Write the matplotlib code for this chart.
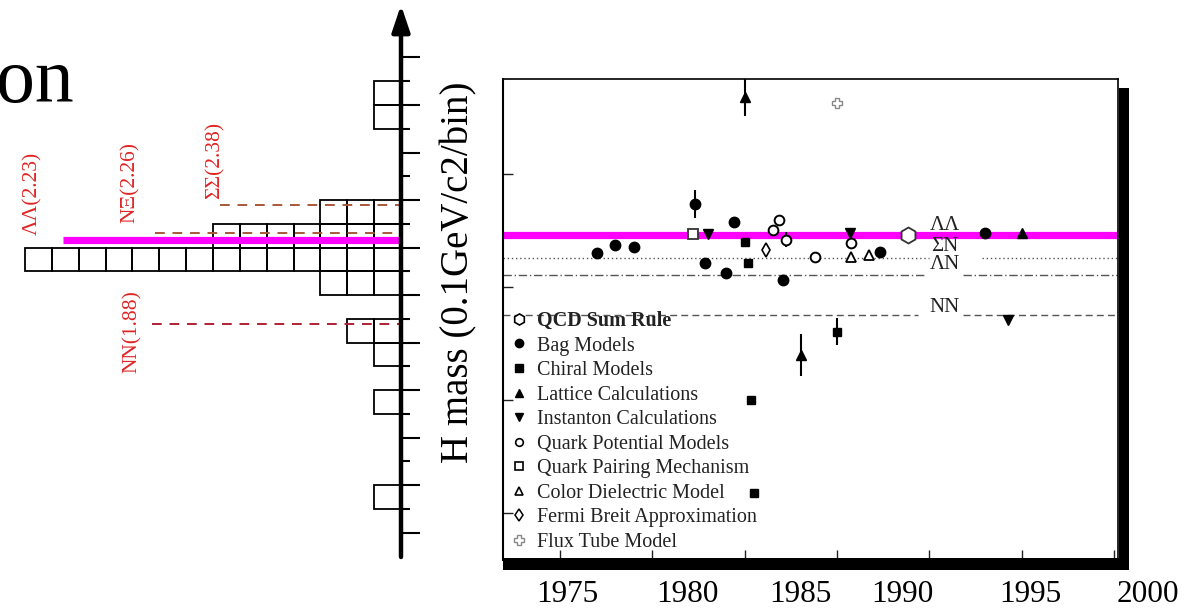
import numpy as np
import matplotlib
matplotlib.use("Agg")
import matplotlib.pyplot as plt
from matplotlib.patches import Rectangle
from matplotlib.lines import Line2D

plt.rcParams['font.family'] = ['Liberation Serif', 'DejaVu Serif']

W, H = 1189, 609

# ---------------- data ----------------
# left: histogram of predicted H masses, 0.1 GeV bins starting at 1.0 GeV
bin_lo = [1.0 + 0.1 * i for i in range(20)]
bin_counts = [0, 1, 0, 0, 0, 1, 0, 1, 2, 0, 3, 14, 7, 3, 0, 0, 0, 1, 1, 0]

thresh_names = ["ΛΛ(2.23)", "NΞ(2.26)", "ΣΣ(2.38)", "NN(1.88)"]
thresh_mass = [2.23, 2.26, 2.38, 1.88]

# right: predictions vs year
bag_year = [1977.0, 1978.0, 1979.0, 1982.3, 1982.85, 1984.0, 1984.4, 1987.07, 1992.33, 1998.0]
bag_mass = [2.150, 2.186, 2.177, 2.367, 2.106, 2.062, 2.288, 2.031, 2.155, 2.239]
bag_err = [0, 0, 0, 0.062, 0, 0, 0, 0, 0, 0]

chiral_year = [1985.02, 1985.18, 1985.34, 1985.5, 1990.0]
chiral_mass = [2.199, 2.106, 1.500, 1.088, 1.801]
chiral_err = [0, 0, 0, 0, 0.06]

lattice_year = [1985.02, 1988.05, 2000.0]
lattice_mass = [2.841, 1.699, 2.239]
lattice_err = [0.085, 0.095, 0]

inst_year = [1983.0, 1990.7, 1999.26]
inst_mass = [2.235, 2.239, 1.854]

qpm_year = [1986.53, 1986.86, 1987.24, 1988.81, 1990.76]
qpm_mass = [2.252, 2.296, 2.208, 2.133, 2.195]
qpm_err = [0, 0, 0.033, 0, 0]

qpair_year = [1982.2]
qpair_mass = [2.235]

cdm_year = [1990.76, 1991.73]
cdm_mass = [2.133, 2.142]

fermi_year = [1986.15]
fermi_mass = [2.164]

flux_year = [1990.0]
flux_mass = [2.814]

qcd_year = [1993.84]
qcd_mass = [2.230]

line_names = ["ΛΛ", "ΣN", "ΛN", "NN"]
line_mass = [2.231, 2.128, 2.055, 1.878]

year_labels = ["1975", "1980", "1985", "1990", "1995", "2000"]

# ---------------- figure ----------------
fig = plt.figure(figsize=(W / 100, H / 100), dpi=100)


def fx(x):
    return x / W


def fy(y):
    return 1 - y / H


# title fragment
fig.text(fx(-4), fy(102), "on", fontsize=56, ha="left", va="baseline", color="k")

# ---------------- left panel ----------------
ax1 = fig.add_axes([0, fy(557), fx(401), fy(5) - fy(557)])
ax1.set_xlim(14.93, 0)
ax1.set_ylim(0.897, 3.221)
for s in ax1.spines.values():
    s.set_visible(False)
ax1.patch.set_alpha(0)
ax1.yaxis.tick_right()
ax1.set_yticks(np.arange(1.0, 3.01, 0.2))
ax1.set_yticks(np.arange(1.1, 3.0, 0.2), minor=True)
ax1.tick_params(axis="y", which="major", direction="out", length=13.7, width=1.5, labelright=False, color="k")
ax1.tick_params(axis="y", which="minor", direction="out", length=6.5, width=1.5, color="k")
ax1.set_xticks([])

ys, lefts = [], []
for lo, c in zip(bin_lo, bin_counts):
    for j in range(c):
        ys.append(lo + 0.05)
        lefts.append(j)
ax1.barh(ys, [1] * len(ys), left=lefts, height=0.1, fill=False, edgecolor="k", linewidth=1.3, clip_on=False)

# threshold lines
ax1.hlines(thresh_mass[0], 12.58, 0, color="#ff00ff", lw=5.2, zorder=3, clip_on=False)
ax1.hlines(thresh_mass[1], 9.16, 0, color="#a8583a", lw=1.4, ls=(0, (5, 4)), zorder=4, clip_on=False)
ax1.hlines(thresh_mass[2], 6.74, 0, color="#a8583a", lw=1.4, ls=(0, (5, 4)), zorder=4, clip_on=False)
ax1.hlines(thresh_mass[3], 9.27, 0, color="#b02035", lw=1.4, ls=(0, (5, 4)), zorder=4, clip_on=False)

# axis with arrow
ax1.annotate("", xy=(0, 3.221), xytext=(0, 0.897), xycoords="data",
             arrowprops=dict(arrowstyle="-|>,head_length=0.8,head_width=0.27", lw=3.2,
                             color="k", mutation_scale=20, shrinkA=0, shrinkB=0),
             annotation_clip=False, zorder=5)

label_pos = [(33, 193), (130, 182), (215, 160), (132, 332)]
for name, (px, py) in zip(thresh_names, label_pos):
    fig.text(fx(px), fy(py), name, rotation=90, ha="center", va="center",
             fontsize=15.5, color="#e02424")

# y label
fig.text(fx(459), fy(272), "H mass (0.1GeV/c2/bin)", rotation=90, ha="center", va="center", fontsize=28)

# ---------------- right panel ----------------
ax2 = fig.add_axes([fx(503), fy(560), fx(1118) - fx(503), fy(79) - fy(560)])
ax2.set_xlim(1971.914, 2005.211)
ax2.set_ylim(0.792, 2.920)
ax2.spines["left"].set_linewidth(1.5)
ax2.spines["top"].set_linewidth(1.2)
ax2.spines["right"].set_linewidth(1.2)
ax2.spines["bottom"].set_visible(False)
ax2.set_xticks([1975, 1980, 1985, 1990, 1995, 2000, 2005])
ax2.set_yticks([1.0, 1.5, 2.0, 2.5])
ax2.tick_params(direction="in", length=7.5, width=1.0, labelbottom=False, labelleft=False, color="#222")

xmin, xmax = ax2.get_xlim()
ax2.hlines(line_mass[0], xmin, xmax, color="#ff00ff", lw=5.2, zorder=2)
ax2.hlines([line_mass[1]] * 2, [xmin, 1997.85], [1995.0, xmax], color="#555", lw=1.0, ls=(0, (1, 2)), zorder=2)
ax2.hlines([line_mass[2]] * 2, [xmin, 1996.8], [1994.7, xmax], color="#555", lw=1.0, ls=(0, (6, 2, 1, 2)), zorder=2)
ax2.hlines([line_mass[3]] * 2, [xmin, 1996.8], [1994.4, xmax], color="#555", lw=1.0, ls=(0, (5, 3)), zorder=2)

line_label_y = [2.272, 2.178, 2.100, 1.911]
for name, ly in zip(line_names, line_label_y):
    ax2.text(1995.84, ly, name, ha="center", va="center", fontsize=15, color="#222", zorder=3)

ek = dict(ecolor="k", elinewidth=1.5, capsize=0, ls="none", zorder=5)
h_qcd, = ax2.plot(qcd_year, qcd_mass, ls="none", marker="h", ms=11.5, mfc="white", mec="#333", mew=1.3, zorder=5)
h_bag = ax2.errorbar(bag_year, bag_mass, yerr=bag_err, marker="o", ms=7.5, mfc="k", mec="k", **ek)
h_chi = ax2.errorbar(chiral_year, chiral_mass, yerr=chiral_err, marker="s", ms=6, mfc="k", mec="k", **ek)
h_lat = ax2.errorbar(lattice_year, lattice_mass, yerr=lattice_err, marker="^", ms=7.5, mfc="k", mec="k", **ek)
h_ins, = ax2.plot(inst_year, inst_mass, ls="none", marker="v", ms=7.5, mfc="k", mec="k", zorder=5)
h_qpm = ax2.errorbar(qpm_year, qpm_mass, yerr=qpm_err, marker="o", ms=7, mfc="white", mec="k", mew=1.4, **ek)
h_qpr, = ax2.plot(qpair_year, qpair_mass, ls="none", marker="s", ms=7, mfc="white", mec="#333", mew=1.3, zorder=5)
h_cdm, = ax2.plot(cdm_year, cdm_mass, ls="none", marker="^", ms=6.5, mfc="white", mec="k", mew=1.3, zorder=5)
h_fer, = ax2.plot(fermi_year, fermi_mass, ls="none", marker="d", ms=7, mfc="white", mec="k", mew=1.2, zorder=5)
h_flx, = ax2.plot(flux_year, flux_mass, ls="none", marker="P", ms=7, mfc="white", mec="#888", mew=1.0, zorder=5)

leg_handles = [
    Line2D([], [], ls="none", marker="h", ms=8, mfc="white", mec="k", mew=1.2),
    Line2D([], [], ls="none", marker="o", ms=6, mfc="k", mec="k"),
    Line2D([], [], ls="none", marker="s", ms=5.5, mfc="k", mec="k"),
    Line2D([], [], ls="none", marker="^", ms=6, mfc="k", mec="k"),
    Line2D([], [], ls="none", marker="v", ms=6, mfc="k", mec="k"),
    Line2D([], [], ls="none", marker="o", ms=5.5, mfc="white", mec="k", mew=1.2),
    Line2D([], [], ls="none", marker="s", ms=5.5, mfc="white", mec="k", mew=1.2),
    Line2D([], [], ls="none", marker="^", ms=5.5, mfc="white", mec="k", mew=1.2),
    Line2D([], [], ls="none", marker="d", ms=6, mfc="white", mec="k", mew=1.1),
    Line2D([], [], ls="none", marker="P", ms=6.5, mfc="white", mec="#888", mew=1.0),
]
leg_labels = ["QCD Sum Rule", "Bag Models", "Chiral Models", "Lattice Calculations",
              "Instanton Calculations", "Quark Potential Models", "Quark Pairing Mechanism",
              "Color Dielectric Model", "Fermi Breit Approximation", "Flux Tube Model"]
leg = fig.legend(leg_handles, leg_labels, loc="upper left", bbox_to_anchor=(fx(511), fy(311)),
                 frameon=False, fontsize=14.5, handlelength=0.8, handletextpad=0.5,
                 labelspacing=0.27, borderpad=0, borderaxespad=0)
leg.get_texts()[0].set_fontweight("bold")
for t in leg.get_texts():
    t.set_color("#222")

# heavy bottom axis and right shadow
fig.add_artist(Rectangle((fx(503), fy(570)), fx(1129) - fx(503), fy(558) - fy(570),
                         transform=fig.transFigure, color="k", lw=0))
fig.add_artist(Rectangle((fx(1119), fy(570)), fx(1129) - fx(1119), fy(88) - fy(570),
                         transform=fig.transFigure, color="k", lw=0))

# slide year labels
label_x = [567, 687, 800, 902, 1030, 1148]
for lab, lx in zip(year_labels, label_x):
    fig.text(fx(lx), fy(594), lab, ha="center", va="center", fontsize=22.5)

fig.savefig("out.png", dpi=100)
